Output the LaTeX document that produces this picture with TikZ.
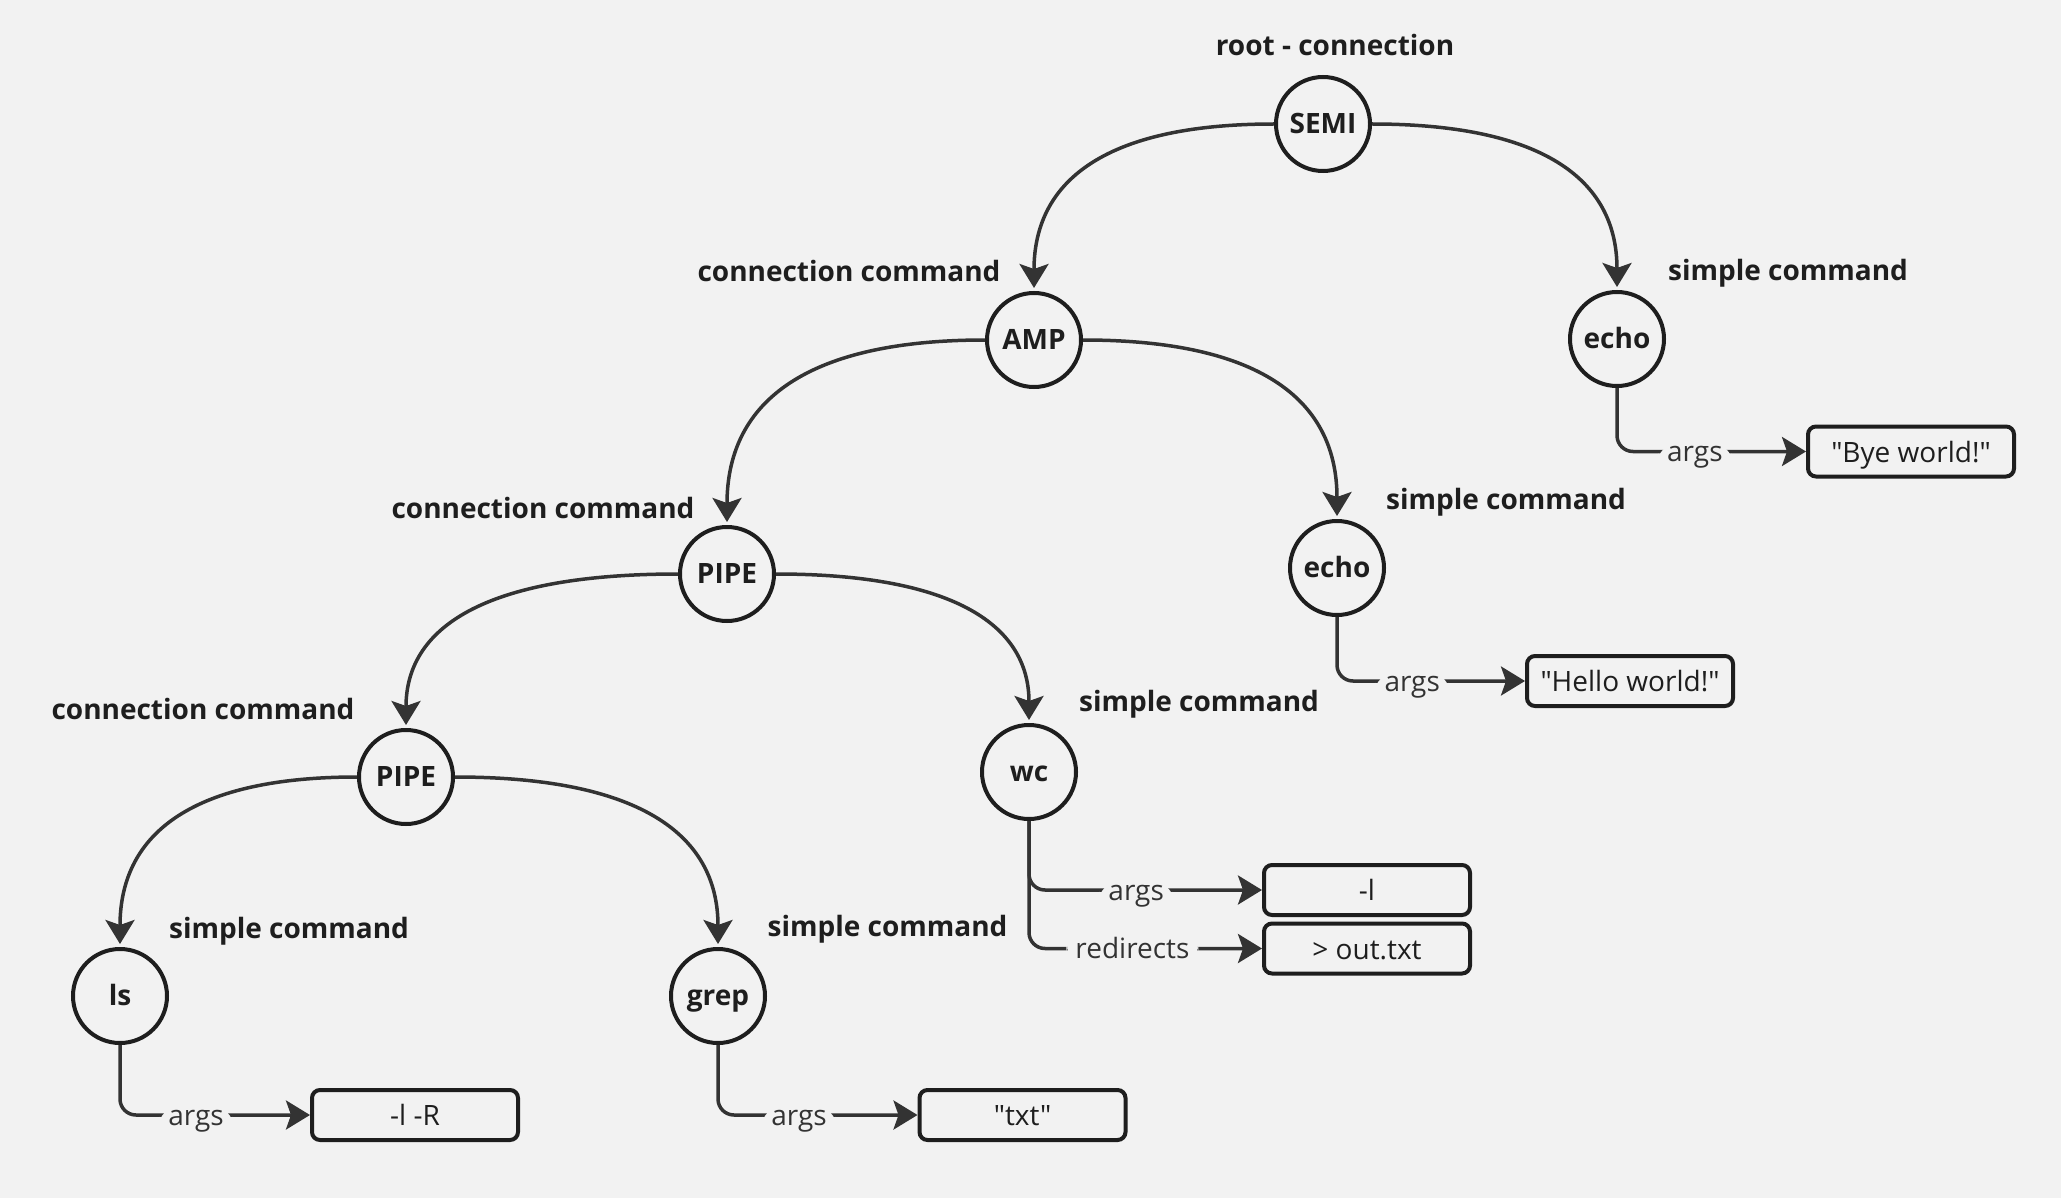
\documentclass[tikz,border=0pt]{standalone}
\usepackage{fontspec}
\setmainfont{Open Sans}[Ligatures=TeXOff]
\usetikzlibrary{arrows.meta}
\definecolor{bg}{HTML}{F2F2F2}
\definecolor{inkC}{HTML}{1E1E1E}
\definecolor{lineC}{HTML}{333333}
\begin{document}
\begin{tikzpicture}[x=1pt,y=-1pt,
  font=\fontsize{28}{34}\selectfont,
  cnode/.style={circle, draw=inkC, line width=4pt, fill=bg, minimum size=94pt, inner sep=0pt, text height=19pt, text depth=0pt, text=inkC, font=\fontsize{28}{34}\selectfont\bfseries},
  valbox/.style={rectangle, rounded corners=8pt, draw=inkC, line width=4pt, fill=bg, minimum width=206pt, minimum height=50pt, inner sep=0pt, text height=21pt, text depth=0pt, text=inkC},
  title/.style={anchor=base, text=inkC, inner sep=0pt, font=\fontsize{28}{34}\selectfont\bfseries},
  edgelbl/.style={fill=bg, text=lineC, inner xsep=9pt, inner ysep=1pt, anchor=base, yshift=-10pt},
  tip/.style={-{Stealth[length=24pt,width=29pt,inset=5pt]}},
  curv/.style={draw=lineC, line width=3.5pt, tip, shorten >=3pt},
  elbow/.style={draw=lineC, line width=3.5pt, tip, rounded corners=16pt}
]
\useasboundingbox[fill=bg] (0,0) rectangle (2061,1198);

% circles
\node[cnode] (SEMI)  at (1323,124) {SEMI};
\node[cnode] (echoA) at (1617,339) {echo};
\node[cnode] (AMP)   at (1034,340) {AMP};
\node[cnode] (echoB) at (1337,568) {echo};
\node[cnode] (PIPEa) at (727,574)  {PIPE};
\node[cnode] (wc)    at (1029,772) {wc};
\node[cnode] (PIPEb) at (406,777)  {PIPE};
\node[cnode] (ls)    at (120,996)  {ls};
\node[cnode] (grep)  at (718,996)  {grep};

% value boxes
\node[valbox] (bye)   at (1911,451.5) {"Bye world!"};
\node[valbox] (hello) at (1630,681)   {"Hello world!"};
\node[valbox] (wcarg) at (1367,890)   {-l};
\node[valbox] (wcred) at (1367,948.5) {> out.txt};
\node[valbox] (lsarg) at (415,1115)   {-l -R};
\node[valbox] (grarg) at (1022.5,1115) {"txt"};

% titles
\node[title] (tRoot)  at (1335,56)  {root - connection};
\node[title] (tAMP)   at (849,281.5)  {connection command};
\node[title] (tEchoA) at (1788,281) {simple command};
\node[title] (tPIPEa) at (543,518.5)  {connection command};
\node[title] (tEchoB) at (1506,509.5) {simple command};
\node[title] (tPIPEb) at (203,719)  {connection command};
\node[title] (tWc)    at (1199,711.5) {simple command};
\node[title] (tLs)    at (289,938)  {simple command};
\node[title] (tGrep)  at (887.5,936) {simple command};

% tree connectors
\draw[curv] (SEMI.west)  .. controls +(-163,0) and +(0,-114) .. (AMP.north);
\draw[curv] (SEMI.east)  .. controls +(167,0)  and +(0,-113) .. (echoA.north);
\draw[curv] (AMP.west)   .. controls +(-175,0) and +(0,-126) .. (PIPEa.north);
\draw[curv] (AMP.east)   .. controls +(173,0)  and +(0,-122) .. (echoB.north);
\draw[curv] (PIPEa.west) .. controls +(-185,0) and +(0,-105) .. (PIPEb.north);
\draw[curv] (PIPEa.east) .. controls +(172,0)  and +(0,-101) .. (wc.north);
\draw[curv] (PIPEb.west) .. controls +(-161,0) and +(0,-116) .. (ls.north);
\draw[curv] (PIPEb.east) .. controls +(179,0)  and +(0,-116) .. (grep.north);

% field connectors
\draw[elbow] (echoA.south) |- node[edgelbl,pos=0.706] {args} (bye.west);
\draw[elbow] (echoB.south) |- node[edgelbl,pos=0.70] {args} (hello.west);
\draw[elbow] (wc.south) |- node[edgelbl,pos=0.722] {redirects} (wcred.west);
\draw[elbow] (wc.south) |- node[edgelbl,pos=0.73] {args} (wcarg.west);
\draw[elbow] (ls.south) |- node[edgelbl,pos=0.70] {args} (lsarg.west);
\draw[elbow] (grep.south) |- node[edgelbl,pos=0.703] {args} (grarg.west);
\end{tikzpicture}
\end{document}
